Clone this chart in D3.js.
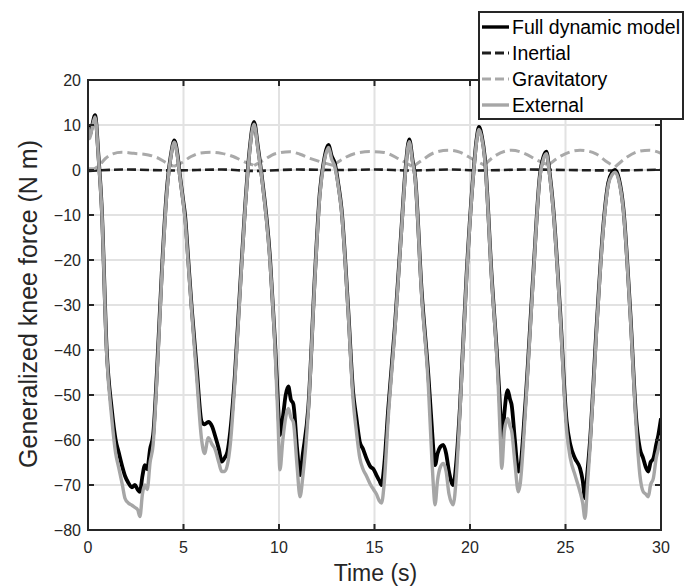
<!DOCTYPE html>
<html>
<head>
<meta charset="utf-8">
<script src="https://cdn.jsdelivr.net/npm/d3@7"></script>
<style>
  html, body { margin: 0; padding: 0; background: #fff; }
  svg { display: block; }
  text { font-family: "Liberation Sans", Arial, Helvetica, sans-serif; }
</style>
</head>
<body>
<svg id="chart" width="684" height="588"></svg>
<script>
// ---------------- DATA ----------------
const xTicks = [0, 5, 10, 15, 20, 25, 30];
const yTicks = [20, 10, 0, -10, -20, -30, -40, -50, -60, -70, -80];
const seriesNames = ["Full dynamic model", "Inertial", "Gravitatory", "External"];

// Shared time base for the full dynamic model and external force
const timeS = [
  0.00, 0.08, 0.20, 0.37, 0.55, 0.72, 0.98, 1.24, 1.45, 1.60, 1.80, 1.94, 2.11, 2.30, 2.46, 2.60, 2.72, 2.85, 2.98, 3.10, 3.25, 3.41, 3.60, 3.86, 4.12, 4.34, 4.52, 4.70, 4.81, 4.99,
  5.08, 5.25, 5.43, 5.69, 5.95, 6.10, 6.30, 6.50, 6.65, 6.85, 7.00, 7.15, 7.30, 7.45, 7.69, 7.95, 8.22, 8.45, 8.69, 8.90, 9.09, 9.53, 9.79, 9.95,
  10.05, 10.20, 10.35, 10.49, 10.62, 10.75, 10.95, 11.10, 11.25, 11.53, 11.88, 12.14, 12.35, 12.60, 12.75, 12.92, 13.10, 13.27, 13.62, 13.88, 14.05, 14.23, 14.40, 14.58, 14.80, 14.95,
  15.10, 15.25, 15.37, 15.50, 15.72, 16.07, 16.42, 16.62, 16.82, 17.00, 17.12, 17.47, 17.82, 18.00, 18.08, 18.17, 18.30, 18.45, 18.60, 18.75, 18.90, 19.12, 19.30, 19.47, 19.82,
  20.17, 20.35, 20.47, 20.62, 20.78, 21.13, 21.48, 21.60, 21.66, 21.80, 21.97, 22.10, 22.18, 22.35, 22.53, 22.62, 22.88, 23.31, 23.66, 23.85, 24.00, 24.15, 24.36, 24.71,
  25.06, 25.25, 25.50, 25.76, 25.90, 26.02, 26.15, 26.28, 26.63, 26.98, 27.24, 27.45, 27.60, 27.80, 28.03, 28.38, 28.73, 28.90, 29.07, 29.20, 29.34, 29.45, 29.60, 29.75, 29.86, 30.00
];
const fullModel = [
  10.0, 7.5, 9.5, 12.2, 3.0, -8.5, -40.0, -53.0, -60.0, -62.6, -66.0, -68.0, -69.5, -70.5, -70.0, -71.0, -71.5, -68.0, -65.6, -66.5, -62.0, -58.9, -45.6, -23.0, -4.8, 3.3, 6.6, 3.0, -1.1, -7.0,
  -10.0, -20.0, -30.7, -44.0, -55.9, -56.5, -56.0, -57.0, -59.0, -62.0, -64.8, -64.0, -62.6, -58.0, -45.6, -27.0, -8.5, 4.0, 10.7, 5.0, -1.1, -19.6, -38.0, -52.0,
  -58.9, -55.0, -50.0, -48.1, -51.0, -52.0, -62.0, -67.8, -63.0, -53.0, -23.3, -4.8, 2.0, 5.6, 3.2, 1.5, -3.0, -8.5, -30.7, -49.3, -55.0, -60.4, -62.0, -64.1, -66.0, -66.5,
  -67.8, -69.0, -70.0, -66.0, -53.0, -34.6, -12.4, 0.0, 6.8, 2.0, -1.1, -27.0, -45.6, -57.0, -61.9, -65.6, -63.0, -61.5, -61.1, -63.0, -67.0, -70.0, -64.0, -53.0, -23.3,
  -1.1, 7.0, 9.6, 7.5, 2.6, -23.3, -45.6, -55.0, -61.9, -54.0, -48.9, -51.0, -52.2, -60.0, -67.0, -66.3, -53.0, -23.3, -1.1, 3.0, 4.1, 0.0, -8.5, -30.7,
  -55.9, -61.0, -64.1, -66.3, -69.0, -72.9, -67.0, -60.4, -34.6, -12.4, -2.8, -0.5, 0.0, -2.0, -8.5, -30.7, -56.7, -62.0, -64.1, -66.0, -67.0, -65.0, -64.1, -61.0, -58.9, -55.2
];
const external = [
  9.5, 7.0, 9.0, 11.8, 2.5, -9.0, -41.0, -55.0, -63.0, -66.0, -70.0, -73.0, -74.0, -74.5, -75.0, -75.5, -77.0, -72.0, -70.0, -71.0, -65.0, -61.0, -47.0, -24.0, -5.5, 3.0, 6.2, 2.5, -1.5, -7.5,
  -11.0, -21.0, -31.5, -46.0, -60.0, -63.0, -59.5, -61.0, -62.0, -65.0, -67.0, -67.0, -65.5, -61.0, -47.0, -28.0, -9.0, 3.5, 10.2, 4.5, -1.5, -20.5, -39.5, -56.0,
  -66.6, -60.0, -55.0, -53.0, -55.0, -56.0, -66.0, -72.6, -68.0, -54.0, -24.0, -5.5, 1.5, 5.0, 2.5, 0.8, -3.5, -9.0, -31.5, -51.0, -58.0, -64.0, -66.5, -68.0, -70.0, -71.0,
  -72.0, -73.5, -74.0, -70.0, -55.0, -35.5, -13.0, -0.5, 6.3, 1.5, -1.5, -28.0, -48.0, -64.0, -70.0, -74.4, -69.0, -66.0, -65.2, -67.0, -72.0, -74.4, -67.0, -54.0, -24.0,
  -1.5, 6.5, 9.0, 7.0, 2.0, -24.0, -48.0, -61.0, -66.3, -58.0, -55.2, -57.0, -58.0, -65.0, -71.5, -70.0, -55.0, -24.0, -1.5, 2.5, 3.6, -0.5, -9.0, -31.5,
  -58.0, -64.0, -67.8, -71.5, -74.0, -77.4, -70.0, -62.0, -35.5, -13.0, -3.3, -1.0, -0.5, -2.5, -9.0, -31.5, -59.0, -68.0, -71.5, -72.0, -72.6, -70.0, -68.5, -64.0, -62.0, -59.0
];

// Gravitatory contribution (arcs between cusps)
const gravT = [
  0.00, 0.30, 0.55, 0.90, 1.30, 1.76, 2.40, 3.16, 3.70, 4.10, 4.50, 4.90, 5.40, 5.90, 6.47, 7.00, 7.60, 8.10, 8.70,
  9.20, 9.80, 10.57, 11.10, 11.62, 12.20, 12.84, 13.40, 14.00, 14.77, 15.50, 16.30, 17.00, 17.50, 18.10, 18.87,
  19.50, 20.10, 20.75, 21.30, 22.18, 22.90, 23.50, 24.10, 24.80, 25.76, 26.60, 27.10, 27.60, 28.20, 28.80, 29.40, 30.00
];
const gravitatory = [
  0.3, 0.3, 0.9, 2.5, 3.6, 3.95, 3.7, 3.35, 2.6, 1.6, 0.8, 1.6, 3.0, 3.8, 3.95, 3.7, 3.0, 2.0, 1.0,
  2.2, 3.6, 4.05, 3.5, 2.6, 1.8, 1.0, 2.6, 3.7, 4.1, 3.9, 2.4, 0.7, 2.2, 3.8, 4.4,
  3.9, 2.5, 1.1, 3.1, 4.4, 3.6, 2.2, 1.1, 3.2, 4.4, 3.6, 2.0, 0.7, 2.8, 4.1, 4.4, 3.7
];

// Inertial contribution (close to zero)
const inertT = [0, 2, 4.5, 7, 8.7, 11, 13, 15, 17, 19, 20.5, 23, 25, 27.5, 30];
const inertial = [-0.2, 0.1, -0.1, 0.1, -0.2, 0.1, 0.0, 0.1, -0.1, 0.1, -0.1, 0.1, 0.0, -0.1, 0.1];

// ---------------- CHART ----------------
const svg = d3.select("#chart");
const mLeft = 88, mRight = 661, mTop = 80, mBottom = 530;

const x = d3.scaleLinear().domain([0, 30]).range([mLeft, mRight]);
const y = d3.scaleLinear().domain([-80, 20]).range([mBottom, mTop]);

const gridColor = "#e2e2e2";
const axisColor = "#262626";

// gridlines
svg.append("g").selectAll("line").data(xTicks.slice(1, -1)).join("line")
  .attr("x1", d => x(d)).attr("x2", d => x(d)).attr("y1", mTop).attr("y2", mBottom)
  .attr("stroke", gridColor).attr("stroke-width", 2);
svg.append("g").selectAll("line").data(yTicks.slice(1, -1)).join("line")
  .attr("y1", d => y(d)).attr("y2", d => y(d)).attr("x1", mLeft).attr("x2", mRight)
  .attr("stroke", gridColor).attr("stroke-width", 2);

// clip
svg.append("clipPath").attr("id", "plotclip").append("rect")
  .attr("x", mLeft).attr("y", mTop).attr("width", mRight - mLeft).attr("height", mBottom - mTop);

const plot = svg.append("g").attr("clip-path", "url(#plotclip)");

// inertial
const inertData = inertT.map((t, i) => [t, inertial[i]]);
plot.append("path").datum(inertData)
  .attr("fill", "none").attr("stroke", "#1e1e1e").attr("stroke-width", 2.6)
  .attr("stroke-dasharray", "9,4")
  .attr("d", d3.line().x(d => x(d[0])).y(d => y(d[1])).curve(d3.curveMonotoneX));

// gravitatory: split into arcs at local minima (cusps)
const gravData = gravT.map((t, i) => [t, gravitatory[i]]);
const cuspIdx = [0];
for (let i = 1; i < gravData.length - 1; i++) {
  if (gravData[i][1] < gravData[i - 1][1] && gravData[i][1] < gravData[i + 1][1]) cuspIdx.push(i);
}
cuspIdx.push(gravData.length - 1);
const gravLine = d3.line().x(d => x(d[0])).y(d => y(d[1])).curve(d3.curveMonotoneX);
let gravD = "";
for (let k = 0; k < cuspIdx.length - 1; k++) {
  gravD += gravLine(gravData.slice(cuspIdx[k], cuspIdx[k + 1] + 1));
}
plot.append("path")
  .attr("fill", "none").attr("stroke", "#a9a9a9").attr("stroke-width", 3)
  .attr("stroke-dasharray", "10,5")
  .attr("d", gravD);

// full model & external
const fullData = timeS.map((t, i) => [t, fullModel[i]]);
const extData = timeS.map((t, i) => [t, external[i]]);
const mainLine = d3.line().x(d => x(d[0])).y(d => y(d[1])).curve(d3.curveMonotoneX);
plot.append("path").datum(fullData)
  .attr("fill", "none").attr("stroke", "#000").attr("stroke-width", 3.8)
  .attr("stroke-linejoin", "round")
  .attr("d", mainLine);
plot.append("path").datum(extData)
  .attr("fill", "none").attr("stroke", "#a6a6a6").attr("stroke-width", 3.4)
  .attr("stroke-linejoin", "round")
  .attr("d", mainLine);

// frame
svg.append("rect").attr("x", mLeft).attr("y", mTop)
  .attr("width", mRight - mLeft).attr("height", mBottom - mTop)
  .attr("fill", "none").attr("stroke", axisColor).attr("stroke-width", 2);

// ticks (inward, all four sides)
const tl = 6;
const tg = svg.append("g").attr("stroke", axisColor).attr("stroke-width", 2);
xTicks.forEach(d => {
  tg.append("line").attr("x1", x(d)).attr("x2", x(d)).attr("y1", mBottom).attr("y2", mBottom - tl);
  tg.append("line").attr("x1", x(d)).attr("x2", x(d)).attr("y1", mTop).attr("y2", mTop + tl);
});
yTicks.forEach(d => {
  tg.append("line").attr("y1", y(d)).attr("y2", y(d)).attr("x1", mLeft).attr("x2", mLeft + tl);
  tg.append("line").attr("y1", y(d)).attr("y2", y(d)).attr("x1", mRight).attr("x2", mRight - tl);
});

// tick labels
const fmt = d3.format("d");
svg.append("g").selectAll("text").data(xTicks).join("text")
  .attr("x", d => x(d)).attr("y", mBottom + 23)
  .attr("text-anchor", "middle").attr("font-size", 16).attr("fill", axisColor)
  .text(d => fmt(d));
svg.append("g").selectAll("text").data(yTicks).join("text")
  .attr("x", mLeft - 7).attr("y", d => y(d) + 6)
  .attr("text-anchor", "end").attr("font-size", 16).attr("fill", axisColor)
  .text(d => fmt(d));

// axis titles
svg.append("text").attr("x", (mLeft + mRight) / 2 + 1).attr("y", 581)
  .attr("text-anchor", "middle").attr("font-size", 23).attr("fill", axisColor)
  .text("Time (s)");
svg.append("text").attr("transform", `translate(37,304) rotate(-90)`)
  .attr("text-anchor", "middle").attr("font-size", 25).attr("fill", axisColor)
  .text("Generalized knee force (N m)");

// legend
const lg = svg.append("g");
lg.append("rect").attr("x", 479).attr("y", 12).attr("width", 204).attr("height", 107)
  .attr("fill", "#fff").attr("stroke", axisColor).attr("stroke-width", 2);
const legendStyles = [
  { color: "#000", dash: null, w: 3.4 },
  { color: "#1e1e1e", dash: "9,4", w: 3 },
  { color: "#a9a9a9", dash: "9,4", w: 3 },
  { color: "#a6a6a6", dash: null, w: 3.4 }
];
seriesNames.forEach((name, i) => {
  const yy = 27 + i * 26;
  lg.append("line").attr("x1", 482).attr("x2", 509).attr("y1", yy).attr("y2", yy)
    .attr("stroke", legendStyles[i].color).attr("stroke-width", legendStyles[i].w)
    .attr("stroke-dasharray", legendStyles[i].dash);
  lg.append("text").attr("x", 512).attr("y", yy + 7)
    .attr("font-size", 19.5).attr("fill", "#000").text(name);
});
</script>
</body>
</html>
